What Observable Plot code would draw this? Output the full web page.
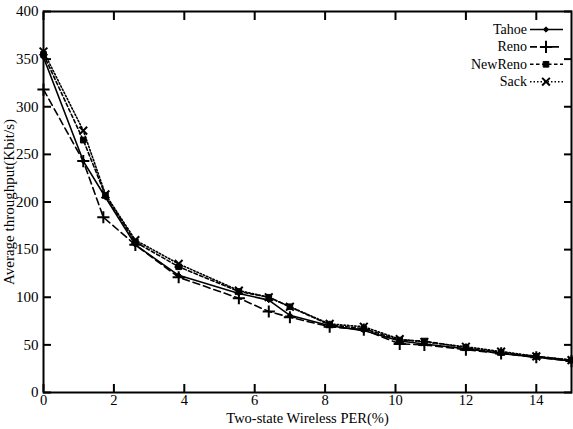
<!DOCTYPE html>
<html><head><meta charset="utf-8">
<script src="https://cdn.jsdelivr.net/npm/d3@7"></script>
<script src="https://cdn.jsdelivr.net/npm/@observablehq/plot@0.6"></script>
<style>body{margin:0;background:#fff} svg{display:block} svg text{font-family:"Liberation Serif","Times New Roman",Times,serif !important;}</style>
</head><body><div id="chart"></div>
<script>
const seriesNames = ["Tahoe", "Reno", "NewReno", "Sack"];
const perTahoe   = [0, 1.13, 1.76, 2.61, 3.84, 5.55, 6.4, 7.0, 8.13, 9.1, 10.12, 10.82, 12, 13, 14, 15];
const thrTahoe   = [352, 243, 205, 155, 123, 104, 97, 81, 70, 65, 54, 51, 46, 41, 37, 33];
const perReno    = [0, 1.13, 1.7, 2.61, 3.84, 5.55, 6.4, 7.0, 8.13, 9.1, 10.12, 10.82, 12, 13, 14, 15];
const thrReno    = [318, 243, 184, 155, 121, 99, 85, 79, 69, 66, 51, 50, 45, 41, 37, 33];
const perNewReno = [0, 1.13, 1.76, 2.61, 3.84, 5.55, 6.4, 7.0, 8.13, 9.1, 10.12, 10.82, 12, 13, 14, 15];
const thrNewReno = [355, 265, 207, 158, 132, 106, 100, 90, 71, 67, 55, 54, 47, 42, 38, 34];
const perSack    = [0, 1.13, 1.76, 2.61, 3.84, 5.55, 6.4, 7.0, 8.13, 9.1, 10.12, 10.82, 12, 13, 14, 15];
const thrSack    = [358, 275, 208, 160, 135, 107, 100, 90, 72, 69, 56, 53, 48, 43, 38, 34];
const xTicks = [0, 2, 4, 6, 8, 10, 12, 14];
const yTicks = [0, 50, 100, 150, 200, 250, 300, 350, 400];
const xLabel = "Two-state Wireless PER(%)";
const yLabel = "Average throughput(Kbit/s)";

const perArrays = [perTahoe, perReno, perNewReno, perSack];
const thrArrays = [thrTahoe, thrReno, thrNewReno, thrSack];
const data = seriesNames.flatMap((s, i) => perArrays[i].map((p, j) => ({series: s, per: p, thr: thrArrays[i][j]})));

const styles = {
  Tahoe:   {dash: null,      symbol: "diamond2", r: 2.4, fill: "black", stroke: "black", sw: 1},
  Reno:    {dash: "7,4",     symbol: "plus",     r: 4,   fill: "none",  stroke: "black", sw: 2},
  NewReno: {dash: "3.5,2.5", symbol: "square",   r: 3.2, fill: "black", stroke: "black", sw: 1},
  Sack:    {dash: "1.5,2",   symbol: "times",    r: 3.6, fill: "none",  stroke: "black", sw: 2}
};

const marks = [
  Plot.axisX(xTicks, {anchor: "bottom", tickSize: -8, tickPadding: 10, strokeWidth: 2, fontSize: 14.5, label: xLabel, labelAnchor: "center", labelOffset: 30, labelArrow: "none"}),
  Plot.axisX(xTicks, {anchor: "top", tickSize: -8, strokeWidth: 2, tickFormat: () => "", label: null}),
  Plot.axisY(yTicks, {anchor: "left", tickSize: -8, tickPadding: 13, strokeWidth: 2, fontSize: 15, label: yLabel, labelAnchor: "center", labelOffset: 40, labelArrow: "none"}),
  Plot.axisY(yTicks, {anchor: "right", tickSize: -8, strokeWidth: 2, tickFormat: () => "", label: null})
];
for (const s of seriesNames) {
  const st = styles[s];
  const d = data.filter(r => r.series === s);
  marks.push(Plot.line(d, {x: "per", y: "thr", stroke: "black", strokeWidth: 1.6, strokeDasharray: st.dash}));
  marks.push(Plot.dot(d, {x: "per", y: "thr", symbol: () => st.symbol, r: st.r, fill: st.fill, stroke: st.stroke, strokeWidth: st.sw}));
}
marks.push(Plot.frame({stroke: "black", strokeWidth: 2}));

const plot = Plot.plot({
  width: 573, height: 429,
  marginLeft: 43, marginRight: 2, marginTop: 11, marginBottom: 37,
  style: {fontFamily: "Liberation Serif, Times New Roman, serif", fontSize: "14px", background: "white", color: "black"},
  x: {domain: [0, 15]},
  y: {domain: [0, 400]},
  symbol: {type: "identity"},
  marks
});
document.getElementById("chart").appendChild(plot);

// Legend (inside the plot frame, top-right)
const svg = d3.select(plot);
const lg = svg.append("g").attr("font-size", 14);
seriesNames.forEach((s, i) => {
  const st = styles[s];
  const y = 29.5 + i * 17.4;
  lg.append("text").attr("x", 527).attr("y", y).attr("text-anchor", "end").attr("dominant-baseline", "central").text(s);
  lg.append("line").attr("x1", 530).attr("x2", 563).attr("y1", y).attr("y2", y)
    .attr("stroke", "black").attr("stroke-width", 1.6).attr("stroke-dasharray", st.dash);
  lg.append("path").attr("transform", `translate(546,${y})`)
    .attr("d", d3.symbol(s === "Tahoe" ? d3.symbolDiamond2 : s === "Reno" ? d3.symbolPlus : s === "NewReno" ? d3.symbolSquare : d3.symbolTimes, Math.PI * st.r * st.r)())
    .attr("fill", st.fill).attr("stroke", st.stroke).attr("stroke-width", st.sw);
});
</script>
</body></html>
